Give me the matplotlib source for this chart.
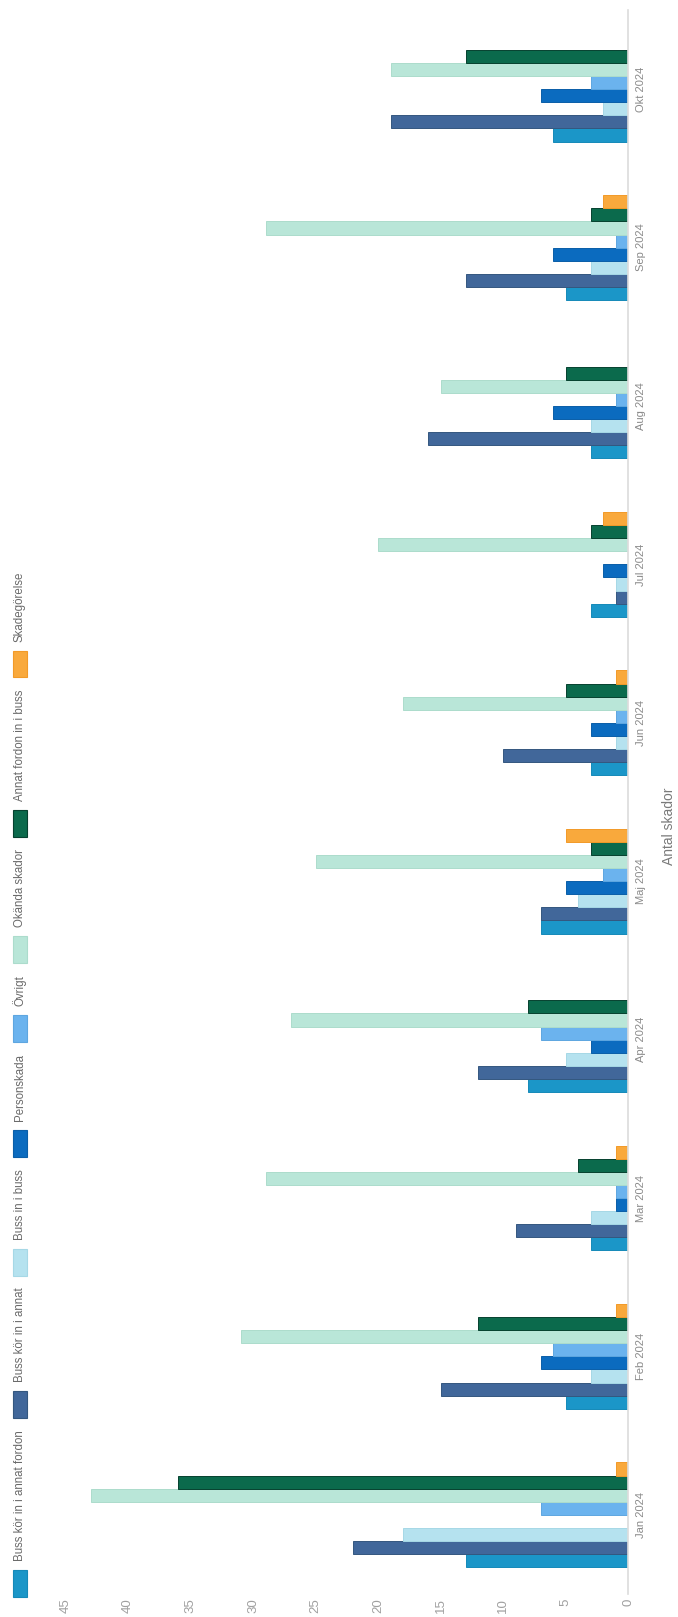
import numpy as np
import matplotlib
matplotlib.use("Agg")
import matplotlib.pyplot as plt
from matplotlib.patches import Rectangle

plt.rcParams['font.family'] = ['Liberation Sans', 'DejaVu Sans']

months = ['Jan 2024', 'Feb 2024', 'Mar 2024', 'Apr 2024', 'Maj 2024',
          'Jun 2024', 'Jul 2024', 'Aug 2024', 'Sep 2024', 'Okt 2024']

series_names = ['Buss kör in i annat fordon', 'Buss kör in i annat', 'Buss in i buss',
                'Personskada', 'Övrigt', 'Okända skador', 'Annat fordon in i buss',
                'Skadegörelse']

buss_annat_fordon = [13, 5, 3, 8, 7, 3, 3, 3, 5, 6]
buss_annat = [22, 15, 9, 12, 7, 10, 1, 16, 13, 19]
buss_i_buss = [18, 3, 3, 5, 4, 1, 1, 3, 3, 2]
personskada = [0, 7, 1, 3, 5, 3, 2, 6, 6, 7]
ovrigt = [7, 6, 1, 7, 2, 1, 0, 1, 1, 3]
okanda = [43, 31, 29, 27, 25, 18, 20, 15, 29, 19]
annat_fordon = [36, 12, 4, 8, 3, 5, 3, 5, 3, 13]
skadegorelse = [1, 1, 1, 0, 5, 1, 2, 0, 2, 0]

series = [buss_annat_fordon, buss_annat, buss_i_buss, personskada,
          ovrigt, okanda, annat_fordon, skadegorelse]

fills = ['#1b96c8', '#41679a', '#b5e2ef', '#0b6bbf',
         '#6bb3ee', '#b9e6d8', '#0b6a4c', '#f9a93c']
edges = ['#1589b8', '#34577f', '#a6d8e6', '#0a5ea8',
         '#5ea6e0', '#acdccc', '#06412f', '#f29a28']

W, H = 678, 1617
fig = plt.figure(figsize=(W / 100, H / 100), dpi=100)

# plot area in pixels (x0, x1, y_top, y_bottom)
px0, px1, ptop, pbot = 65.5, 628, 10, 1594
ax = fig.add_axes([px0 / W, 1 - pbot / H, (px1 - px0) / W, (pbot - ptop) / H])

n = len(series)
slot = 0.0826
ypos = np.arange(len(months))
for k, vals in enumerate(series):
    off = (k - (n - 1) / 2) * slot
    ax.barh(ypos + off, vals, height=slot, left=0, color=fills[k],
            edgecolor=edges[k], linewidth=0.7)

ax.set_xlim(45, 0)
ax.set_ylim(-0.5, len(months) - 0.5)

for s in ['top', 'left', 'bottom']:
    ax.spines[s].set_visible(False)
ax.spines['right'].set_color('#dcdcdc')
ax.spines['right'].set_linewidth(1.2)

ax.set_xticks(np.arange(0, 46, 5))
ax.tick_params(axis='x', length=0, pad=3, labelsize=9.5, labelcolor='#a0a0a0',
               labelrotation=90)

ax.yaxis.tick_right()
ax.set_yticks(ypos)
ax.set_yticklabels(months, rotation=90, va='center', ha='left')
ax.tick_params(axis='y', length=0, pad=6, labelsize=8, labelcolor='#8a8a8a')

fig.text(669 / W, 1 - 826 / H, 'Antal skador', rotation=90, ha='center',
         va='center', fontsize=10, color='#7a7a7a')

# legend drawn as a rotated column along the left edge
renderer = fig.canvas.get_renderer()
box_w, box_h = 14, 27
lx = 20
cursor = 20  # pixels from the bottom
for name, fc, ec in zip(series_names, fills, edges):
    fig.add_artist(Rectangle(((lx - box_w / 2) / W, cursor / H), box_w / W, box_h / H,
                             transform=fig.transFigure, facecolor=fc, edgecolor=ec,
                             linewidth=0.8))
    cursor += box_h + 9
    t = fig.text(lx / W, cursor / H, name, rotation=90, ha='center', va='bottom',
                 fontsize=8.3, color='#6a6a6a')
    bb = t.get_window_extent(renderer=renderer)
    cursor += bb.height + 12

fig.savefig('out.png', dpi=100)
